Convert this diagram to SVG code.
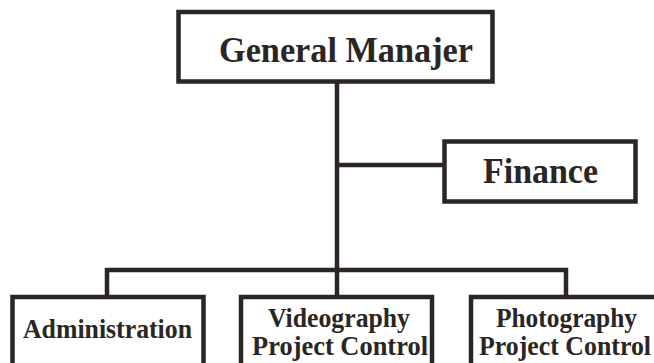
<svg xmlns="http://www.w3.org/2000/svg" width="654" height="363" viewBox="0 0 654 363">
<style>
.box{fill:#ffffff;stroke:#2b2523;stroke-width:4.5}
.con{fill:none;stroke:#2b2523;stroke-width:4.5}
.t{font-family:"Liberation Serif","Times New Roman",serif;font-weight:bold;fill:#2b2523}
</style>
<rect width="654" height="363" fill="#ffffff"/>
<g id="connectors">
<path class="con" d="M337,81.5 V270 M337,165 H444.5 M107,297 V270 H566 V297 M337,270 V297"/>
</g>
<g id="gm">
<rect class="box" x="178.5" y="12" width="314" height="69.5"/>
<text class="t" x="219" y="62" font-size="35" textLength="254" lengthAdjust="spacingAndGlyphs">General Manajer</text>
</g>
<g id="finance">
<rect class="box" x="444.5" y="141.5" width="191" height="60"/>
<text class="t" x="483" y="183" font-size="35" textLength="115" lengthAdjust="spacingAndGlyphs">Finance</text>
</g>
<g id="admin">
<rect class="box" x="12.5" y="297" width="191" height="90"/>
<text class="t" x="23" y="338" font-size="28" textLength="169" lengthAdjust="spacingAndGlyphs">Administration</text>
</g>
<g id="video">
<rect class="box" x="241" y="297" width="191" height="90"/>
<text class="t" x="268" y="327" font-size="28" textLength="142" lengthAdjust="spacingAndGlyphs">Videography</text>
<text class="t" x="252" y="355" font-size="28" textLength="176" lengthAdjust="spacingAndGlyphs">Project Control</text>
</g>
<g id="photo">
<rect class="box" x="471" y="297" width="200" height="90"/>
<text class="t" x="496" y="327" font-size="28" textLength="141" lengthAdjust="spacingAndGlyphs">Photography</text>
<text class="t" x="479" y="355" font-size="28" textLength="172" lengthAdjust="spacingAndGlyphs">Project Control</text>
</g>
</svg>
